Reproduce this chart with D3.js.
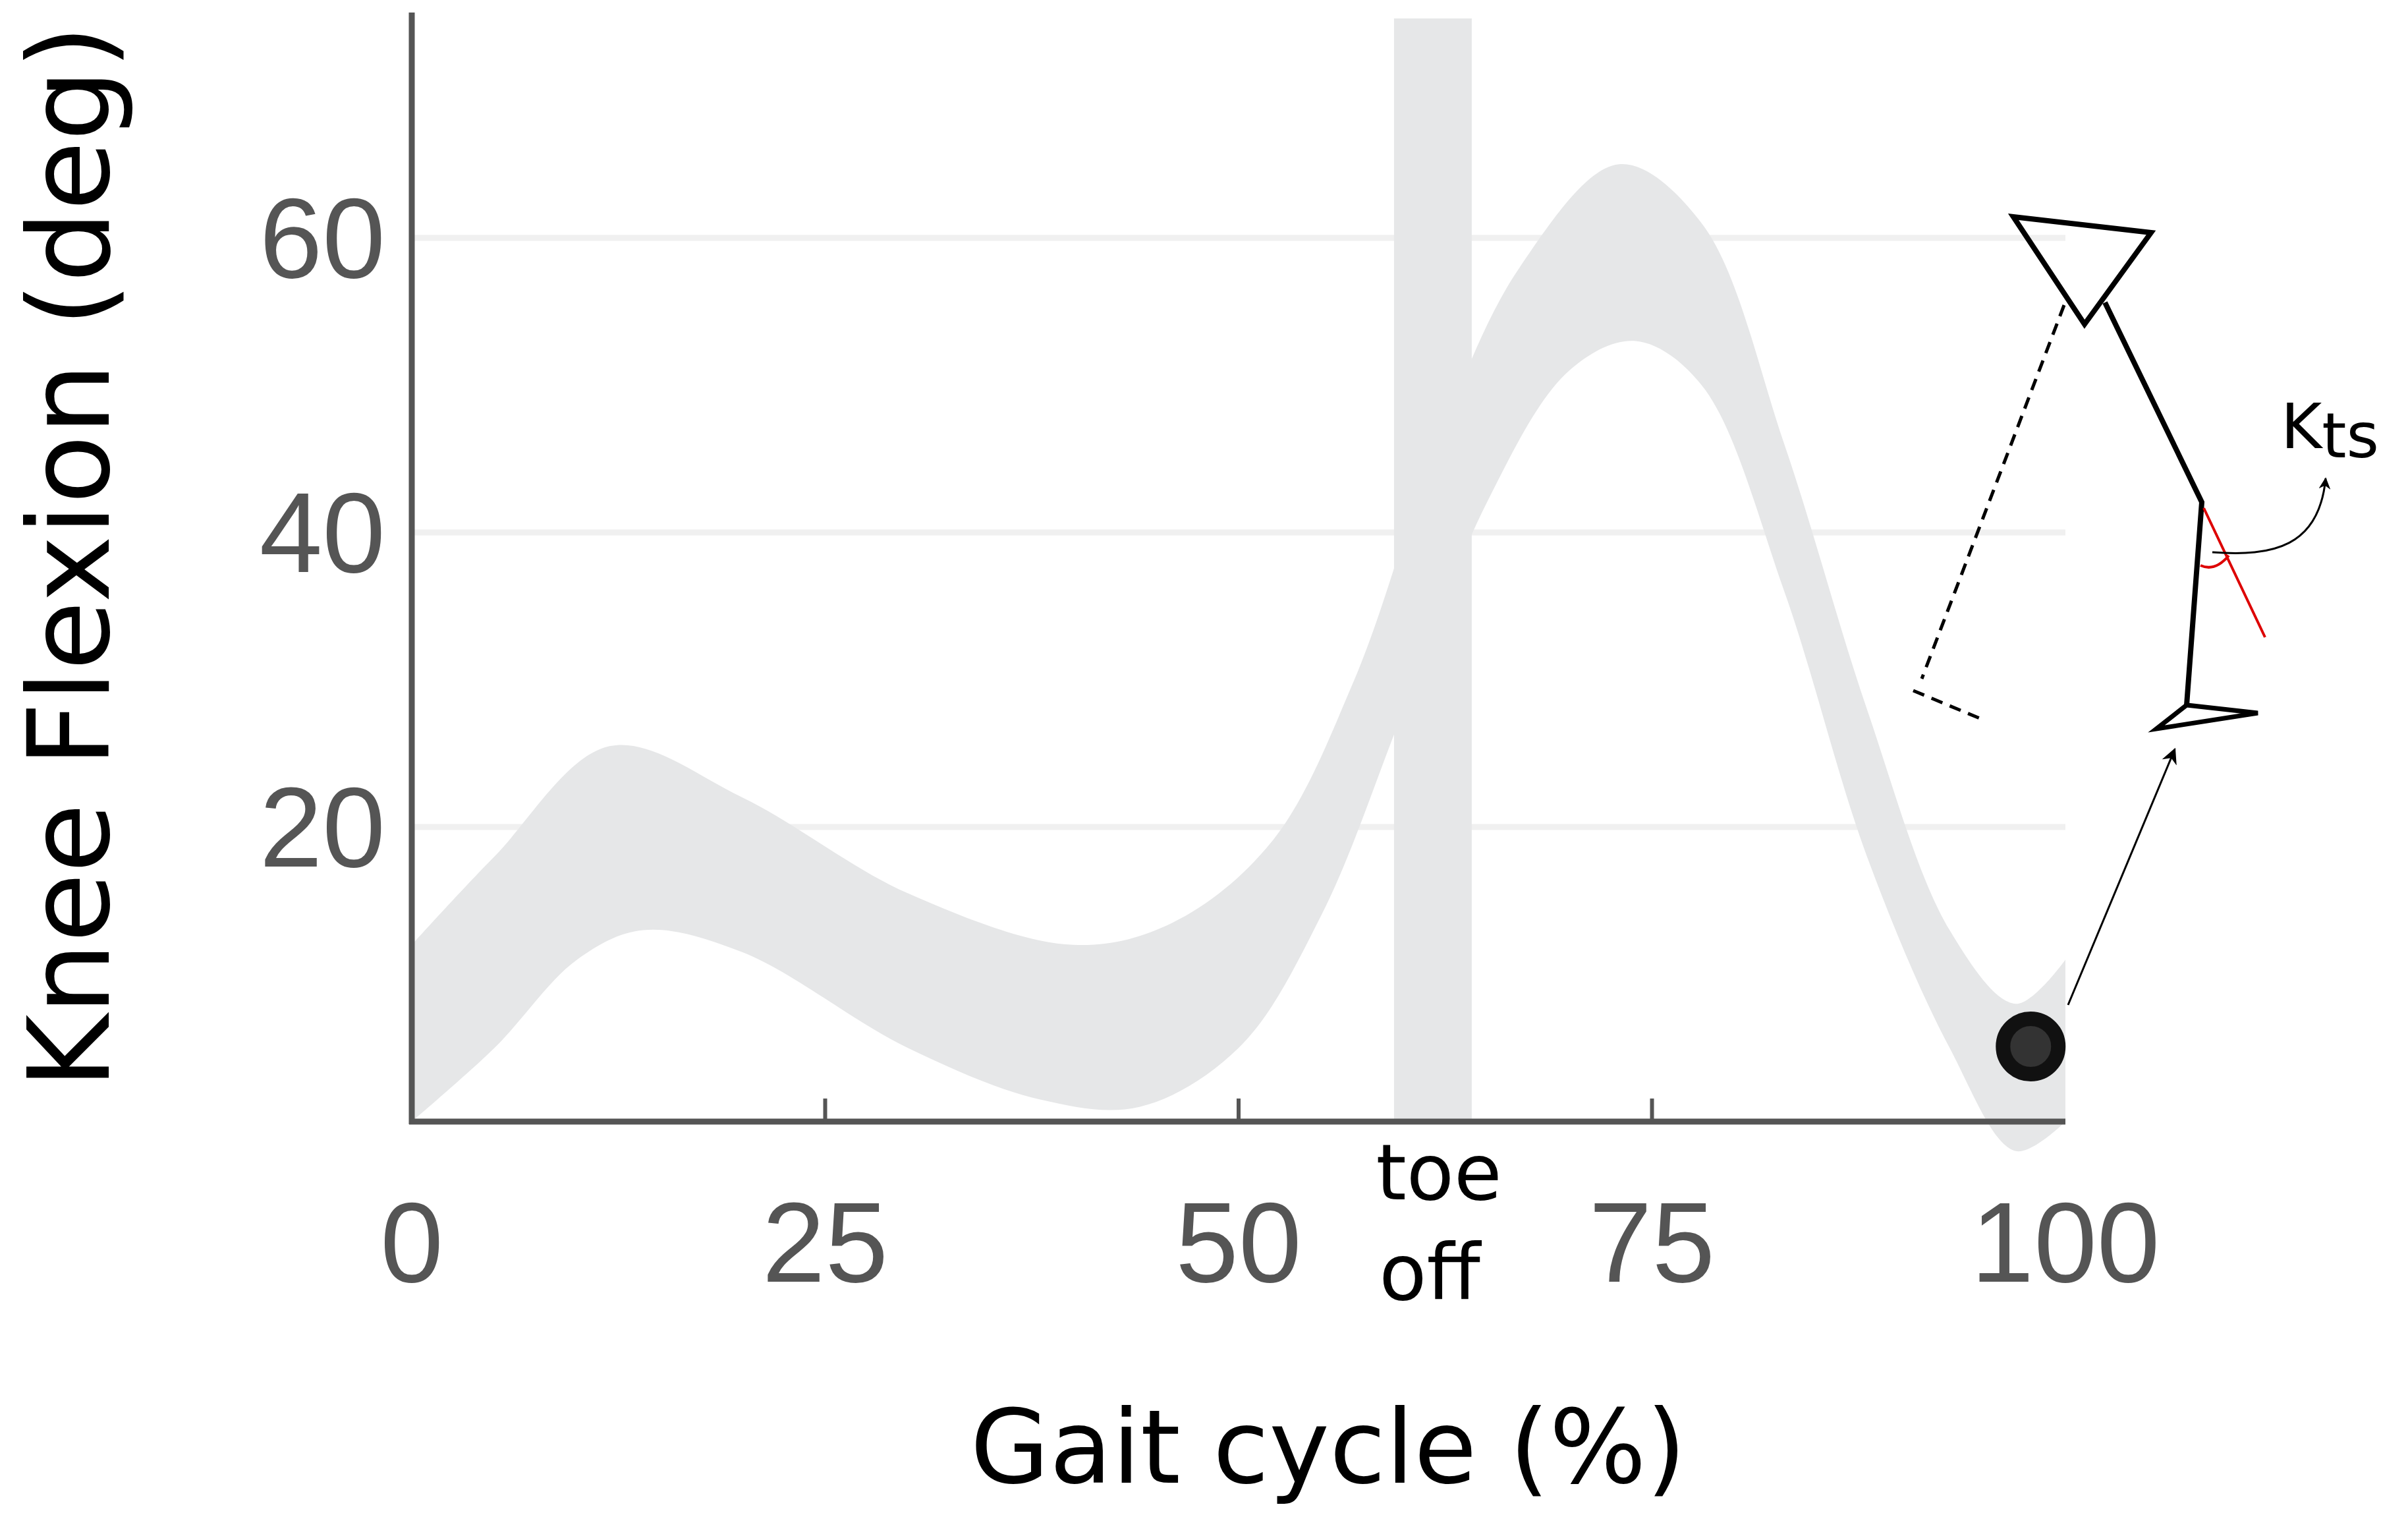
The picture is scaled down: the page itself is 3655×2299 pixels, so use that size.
<!DOCTYPE html>
<html><head><meta charset="utf-8">
<script src="https://cdn.jsdelivr.net/npm/d3@7"></script>
<style>body{margin:0;background:#fff}</style></head>
<body><svg id="c" width="3655" height="2299"></svg>
<script>
const upperPct  = [0,5,12,20,30,40,46,52,57,62,67,73,78,83,88,93,97,100];
const upperBand = [12,18,25.5,22,15.5,12,13.5,19,30,46,58,65,61,46,28,13,8,11];
const lowerPct  = [0,5,10,14,20,30,38,44,50,55,60,65,70,74,78,83,88,93,97,100];
const lowerBand = [0,5,11,13,11.5,5,1.5,1,5,14,28,42,51,53,50,36,18,5,-2,0];
const toeOff = [59.4, 64.1];
const dotPoint = [97.9, 5.1];
const xTicks = [0,25,50,75,100];
const yTicks = [20,40,60];

const svg = d3.select("#c");
const x = d3.scaleLinear().domain([0,100]).range([625,3135]);
const y = d3.scaleLinear().domain([0,60]).range([1702,361]);
const yTop = 19;

svg.selectAll(".g").data(yTicks).join("line")
  .attr("x1",x(0)).attr("x2",x(100)).attr("y1",d=>y(d)).attr("y2",d=>y(d))
  .attr("stroke","#f0f0f0").attr("stroke-width",9);

// band: upper line forward, lower line backward
const line = d3.line().curve(d3.curveCatmullRom.alpha(0.5));
const up = upperPct.map((p,i)=>[x(p),y(upperBand[i])]);
const lo = lowerPct.map((p,i)=>[x(p),y(lowerBand[i])]).reverse();
svg.append("path").attr("d",line(up)+"L"+line(lo).slice(1)+"Z").attr("fill","#e6e7e8");

svg.append("rect").attr("x",x(toeOff[0])).attr("width",x(toeOff[1])-x(toeOff[0]))
  .attr("y",28).attr("height",y(0)-28).attr("fill","#e6e7e8");

svg.append("line").attr("x1",x(0)).attr("x2",x(0)).attr("y1",yTop).attr("y2",y(0)+4).attr("stroke","#555").attr("stroke-width",9);
svg.append("line").attr("x1",x(0)-4).attr("x2",x(100)).attr("y1",y(0)).attr("y2",y(0)).attr("stroke","#555").attr("stroke-width",9);
svg.selectAll(".xt").data(xTicks.slice(1,4)).join("line")
  .attr("x1",d=>x(d)).attr("x2",d=>x(d)).attr("y1",y(0)).attr("y2",y(0)-35).attr("stroke","#555").attr("stroke-width",6);
svg.selectAll(".xl").data(xTicks).join("text").attr("x",d=>x(d)).attr("y",1945)
  .attr("text-anchor","middle").attr("font-family","Liberation Sans, Arial").attr("font-size",172).attr("fill","#555").text(d=>d);
svg.selectAll(".yl").data(yTicks).join("text").attr("x",585).attr("y",d=>y(d)+60)
  .attr("text-anchor","end").attr("font-family","Liberation Sans, Arial").attr("font-size",172).attr("fill","#555").text(d=>d);

svg.append("text").attr("x",2016).attr("y",2250).attr("text-anchor","middle")
  .attr("font-family","DejaVu Sans").attr("font-size",155).attr("fill","#000").text("Gait cycle (%)");
svg.append("text").attr("transform","translate(165,845) rotate(-90)").attr("text-anchor","middle")
  .attr("font-family","DejaVu Sans").attr("font-size",172).attr("fill","#000").text("Knee Flexion (deg)");
svg.append("text").attr("x",2184).attr("y",1820).attr("text-anchor","middle")
  .attr("font-family","DejaVu Sans").attr("font-size",118).text("toe");
svg.append("text").attr("x",2170).attr("y",1972).attr("text-anchor","middle")
  .attr("font-family","DejaVu Sans").attr("font-size",118).text("off");

svg.append("circle").attr("cx",x(dotPoint[0])).attr("cy",y(dotPoint[1])).attr("r",42).attr("fill","#333").attr("stroke","#111").attr("stroke-width",22);

const defs = svg.append("defs");
defs.append("marker").attr("id","ah").attr("viewBox","0 0 10 10").attr("refX",9).attr("refY",5)
  .attr("markerWidth",6).attr("markerHeight",6).attr("orient","auto")
  .append("path").attr("d","M0,0L10,5L0,10L3,5Z").attr("fill","#000");
defs.append("marker").attr("id","ah2").attr("viewBox","0 0 10 10").attr("refX",9).attr("refY",5)
  .attr("markerWidth",8).attr("markerHeight",8).attr("orient","auto")
  .append("path").attr("d","M0,0L10,5L0,10L3,5Z").attr("fill","#000");
const g = svg.append("g").attr("fill","none").attr("stroke","#000");
g.append("path").attr("d","M3056,329L3265,353L3164,492Z").attr("stroke-width",8);
g.append("path").attr("d","M3195,459L3342,762L3319,1070").attr("stroke-width",8);
g.append("path").attr("d","M3273,1106L3319,1070L3427,1082Z").attr("stroke-width",7);
g.append("path").attr("d","M3133,463L2917,1030").attr("stroke-width",5).attr("stroke-dasharray","18,12");
g.append("path").attr("d","M2904,1048L3012,1093").attr("stroke-width",5).attr("stroke-dasharray","18,12");
g.append("path").attr("d","M3345,771L3438,967").attr("stroke","#d00").attr("stroke-width",4);
g.append("path").attr("d","M3340,858Q3362,868 3383,843").attr("stroke","#d00").attr("stroke-width",4);
g.append("path").attr("d","M3358,838C3450,845 3520,830 3530,726").attr("stroke-width",3).attr("marker-end","url(#ah)");
g.append("path").attr("d","M3139,1525L3301,1137").attr("stroke-width",3).attr("marker-end","url(#ah2)");
const kt = svg.append("text").attr("x",3462).attr("y",680).attr("font-family","DejaVu Sans").attr("font-size",95);
kt.append("tspan").text("K");
kt.append("tspan").attr("dy",14).text("ts");
</script></body></html>
